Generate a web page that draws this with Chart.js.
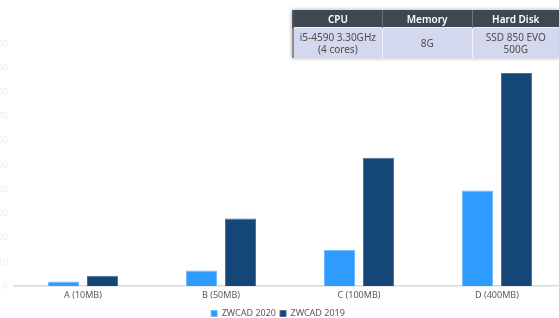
<!DOCTYPE html>
<html>
<head>
<meta charset="utf-8">
<script src="https://cdn.jsdelivr.net/npm/chart.js@4/dist/chart.umd.min.js"></script>
<style>
  html, body { margin: 0; padding: 0; background: #fff; }
  body { width: 559px; height: 318px; overflow: hidden; position: relative; font-family: "Noto Sans", "Liberation Sans", sans-serif; }
  #wrap { position: absolute; left: -10px; top: 0; width: 585px; height: 328px; }
  #spec {
    position: absolute; left: 292px; top: 10px;
    border-collapse: collapse; font-size: 10px; text-align: center;
    box-shadow: 0 0 4px rgba(0,0,0,0.35);
  }
  #spec th { background: #3e4853; color: #fff; font-weight: 600; height: 17px; padding: 0; border-left: 1px solid #6b747d; }
  #spec td { background: #d3d8ee; color: #4d4d4d; height: 30px; padding: 0; line-height: 12px; border-left: 1px solid #f2f3fa; border-top: 1px solid #eef0f8; }
  #spec th:first-child { border-left: 2px solid #555; }
  #spec td:first-child { border-left: 2px solid #8c8c8c; }
</style>
</head>
<body>
<div id="wrap"><canvas id="chart"></canvas></div>
<table id="spec">
  <tr><th style="width:89px">CPU</th><th style="width:90px">Memory</th><th style="width:88px">Hard Disk</th></tr>
  <tr><td>i5-4590 3.30GHz<br>(4 cores)</td><td>8G</td><td>SSD 850 EVO<br>500G</td></tr>
</table>
<script>
/* =====================
   Data
===================== */
var categories = ['A (10MB)', 'B (50MB)', 'C (100MB)', 'D (400MB)'];
var seriesNames = ['ZWCAD 2020', 'ZWCAD 2019'];
var zw2020 = [1.9, 6.5, 15, 39.5];
var zw2019 = [4.3, 28, 53, 88];
var yTicks = [0, 10, 20, 30, 40, 50, 60, 70, 80, 90, 100];

var font9 = {size: 9, family: '"Noto Sans", sans-serif'};

var ctx = document.getElementById('chart');
var chart = new Chart(ctx, {
  type: 'bar',
  data: {
    labels: categories,
    datasets: [
      {label: seriesNames[0], data: zw2020, backgroundColor: '#2e9cff', borderColor: '#6fb8ff', borderWidth: 1},
      {label: seriesNames[1], data: zw2019, backgroundColor: '#154678', borderColor: '#4d6f96', borderWidth: 1}
    ]
  },
  options: {
    responsive: true,
    maintainAspectRatio: false,
    animation: false,
    categoryPercentage: 0.565,
    barPercentage: 0.795,
    layout: {padding: {top: 44, right: 9, bottom: 0, left: 0}},
    plugins: {
      tooltip: {enabled: false},
      legend: {
        position: 'bottom',
        labels: {boxWidth: 6, boxHeight: 6, padding: 4, color: '#595959', font: font9}
      }
    },
    scales: {
      x: {
        grid: {display: false, drawTicks: false},
        border: {color: '#d9d9d9', width: 1.5},
        ticks: {color: '#595959', padding: 4, font: font9}
      },
      y: {
        min: 0, max: 100,
        afterBuildTicks: function(axis) { axis.ticks = yTicks.map(function(v) { return {value: v}; }); },
        afterFit: function(axis) { axis.width = 24; },
        grid: {display: false, drawTicks: false},
        border: {display: false},
        ticks: {color: '#ededed', padding: 6, font: font9}
      }
    }
  }
});
</script>
</body>
</html>
